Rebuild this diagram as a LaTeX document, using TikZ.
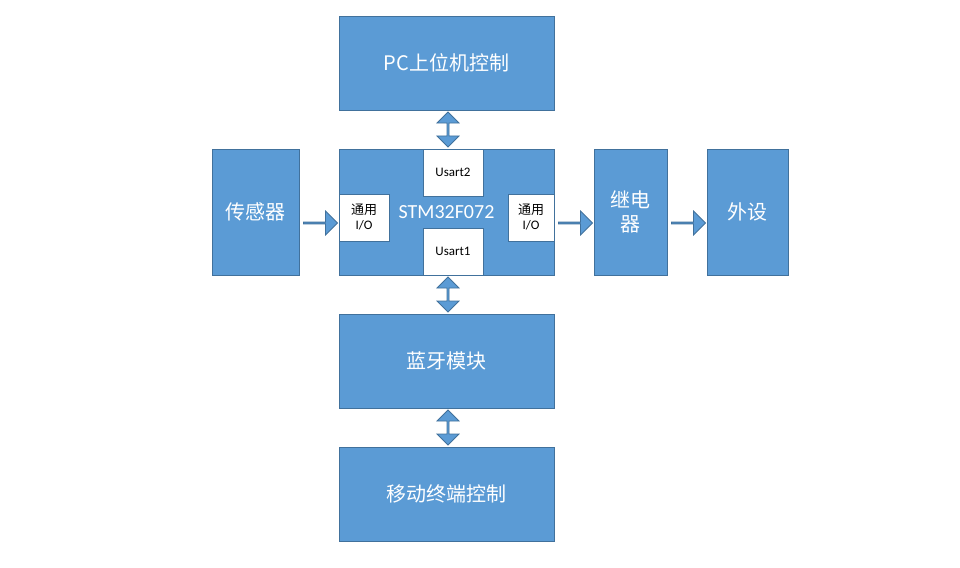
\documentclass[tikz,border=0pt]{standalone}
\usepackage{fontspec}
\setmainfont{Carlito}
\newfontfamily\cjk{Noto Sans CJK SC}
\usetikzlibrary{shapes.arrows}
\definecolor{bfill}{HTML}{5B9BD5}
\definecolor{bline}{HTML}{41719C}
\begin{document}
\begin{tikzpicture}[x=1pt,y=-1pt,
  blk/.style={draw=bline,fill=bfill,line width=0.8pt,text=white,inner sep=0pt,align=center},
  wb/.style={draw=bline,fill=white,line width=0.6pt,text=black,inner sep=0pt,align=center,font=\fontsize{13}{15}\selectfont},
  sa/.style={single arrow,draw=bline,fill=bfill,line width=0.8pt,minimum height=34pt,minimum width=24pt,single arrow head extend=5pt,inner sep=0pt},
  da/.style={double arrow,draw=bline,fill=bfill,line width=0.8pt,minimum height=35pt,minimum width=22pt,double arrow head extend=4pt,inner sep=0pt,rotate=90}]
\useasboundingbox (0,0) rectangle (960,567);
\node[blk,minimum width=215,minimum height=94,font=\cjk\fontsize{20}{24}\selectfont] (pc) at (446.5,63) {PC上位机控制};
\node[blk,minimum width=87,minimum height=126,font=\cjk\fontsize{20}{24}\selectfont] (sen) at (255.5,212) {传感器};
\node[blk,minimum width=215,minimum height=126,font=\fontsize{20}{24}\selectfont] (stm) at (446.5,212) {STM32F072};
\node[blk,minimum width=73,minimum height=126,font=\cjk\fontsize{20}{24}\selectfont] (rel) at (630.5,212) {继电\\器};
\node[blk,minimum width=81,minimum height=126,font=\cjk\fontsize{20}{24}\selectfont] (ext) at (747.5,212) {外设};
\node[blk,minimum width=215,minimum height=94,font=\cjk\fontsize{20}{24}\selectfont] (bt) at (446.5,361) {蓝牙模块};
\node[blk,minimum width=215,minimum height=94,font=\cjk\fontsize{20}{24}\selectfont] (mob) at (446.5,494) {移动终端控制};
\node[wb,minimum width=60,minimum height=47] (u2) at (453,172.5) {Usart2};
\node[wb,minimum width=60,minimum height=47] (u1) at (453,251.5) {Usart1};
\node[wb,minimum width=50,minimum height=47] (gl) at (364,217.5) {{\cjk 通用}\\I/O};
\node[wb,minimum width=46,minimum height=47] (gr) at (531,217.5) {{\cjk 通用}\\I/O};
\node[sa] (a1) at (320,223) {};
\node[sa] (a2) at (575,223) {};
\node[sa] (a3) at (688,223) {};
\node[da] (d1) at (448,129.5) {};
\node[da] (d2) at (448,294.5) {};
\node[da] (d3) at (448,427.5) {};
\end{tikzpicture}
\end{document}
